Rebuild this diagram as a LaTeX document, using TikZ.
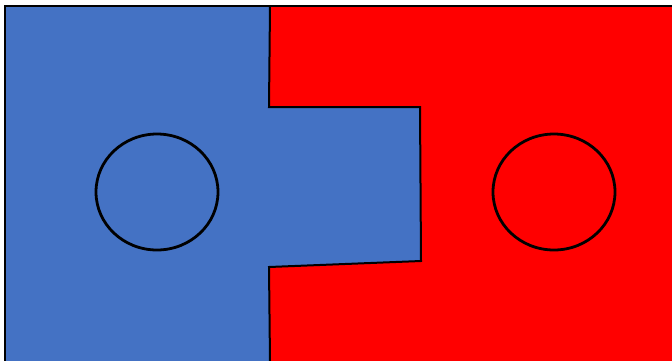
\documentclass[tikz,border=0pt]{standalone}
\usepackage{xcolor}
\definecolor{myblue}{HTML}{4472C4}
\definecolor{myred}{HTML}{FF0000}

\begin{document}
\begin{tikzpicture}[x=1pt, y=-1pt, line join=miter]

                % ===== FRAME =====
                \useasboundingbox (0,0) rectangle (672,360);
                \fill[white] (0,0) rectangle (672,360);

                % ===== BLUE PART (left, with tab) =====
                \fill[myblue] (5,6) -- (270,6) -- (269,107) -- (420,107) -- (421,261)
                    -- (269,267) -- (270,362) -- (5,362) -- cycle;

                % ===== RED PART (right) =====
                \fill[myred] (270,6) -- (674,6) -- (674,362) -- (270,362) -- (269,267)
                    -- (421,261) -- (420,107) -- (269,107) -- cycle;

                % ===== OUTLINES =====
                \draw[line width=2pt] (5,362) -- (5,6) -- (674,6);
                \draw[line width=2pt] (270,6) -- (269,107) -- (420,107) -- (421,261)
                    -- (269,267) -- (270,362);

                % ===== HOLES =====
                \draw[line width=2.8pt] (157,192) ellipse (61 and 58);
                \draw[line width=2.8pt] (554,192) ellipse (61 and 58);

\end{tikzpicture}
\end{document}
